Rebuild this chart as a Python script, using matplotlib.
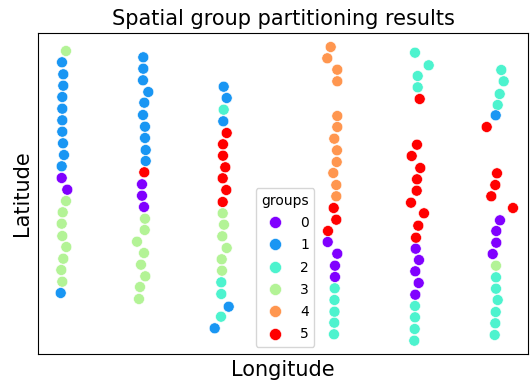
import matplotlib
matplotlib.use("Agg")
import matplotlib.pyplot as plt
import seaborn as sns
import pandas as pd

# Column 1
lon_c1 = [28, 24, 25.3, 25.3, 24.3, 24.3, 24.3, 24.3, 25, 26, 23.7, 23.7, 29.3, 28, 24.7, 23.7, 24.3, 28.3, 25.3, 23.3, 24.3, 22.7]
lat_c1 = [303, 291.7, 279.7, 268.3, 257, 245.3, 233.7, 222.3, 210.7, 199, 187.7, 176, 164.3, 153, 141.7, 130.3, 118, 107, 95.3, 84, 72.3, 61]
grp_c1 = [3, 1, 1, 1, 1, 1, 1, 1, 1, 1, 1, 0, 0, 3, 3, 3, 3, 3, 3, 3, 3, 1]

# Column 2
lon_c2 = [105.3, 105.3, 105, 110.3, 106.3, 105, 107, 107, 107.7, 107.7, 106.3, 104, 104, 106, 107, 106.7, 99, 106, 103, 107.3, 102, 101]
lat_c2 = [296.7, 285.3, 273.7, 262, 251.3, 239, 227.3, 216, 204, 193, 181.7, 169.7, 158.3, 147, 135.3, 124, 112.3, 101, 89.3, 77.7, 67, 55]
grp_c2 = [1, 1, 1, 1, 1, 1, 1, 1, 1, 1, 5, 0, 0, 0, 3, 3, 3, 3, 3, 3, 3, 3]

# Column 3
lon_c3 = [185.7, 188.7, 185.7, 185.3, 188.7, 185, 185, 187.3, 184.7, 188.3, 184.7, 184.7, 186, 184.3, 188.7, 183.7, 184, 183.3, 183.3, 190.7, 183, 176.7]
lat_c3 = [267.3, 256, 244.3, 232.7, 221, 209.7, 198.3, 186.7, 175.7, 164, 152, 140.7, 129.3, 117.7, 106, 94.7, 83.3, 71.7, 60, 47.3, 37.3, 25.7]
grp_c3 = [1, 1, 2, 1, 5, 5, 5, 5, 5, 5, 5, 3, 3, 3, 3, 3, 3, 2, 2, 1, 2, 1]

# Column 4
lon_c4 = [292.7, 289.3, 299.3, 299.3, 299.3, 299.3, 296.3, 299, 298.7, 295.3, 298.3, 298.3, 295.7, 298.3, 290, 289.7, 299.3, 297, 297, 296.7, 296.5, 296.5, 296.3, 296]
lat_c4 = [307, 295.7, 284.3, 272.7, 238, 227, 215.3, 203.7, 192, 181, 169, 157.7, 146, 134.3, 123, 112, 100.3, 88.3, 77, 65.7, 54, 42.3, 31.3, 19.7]
grp_c4 = [4, 4, 4, 4, 4, 4, 4, 4, 4, 4, 4, 4, 5, 5, 5, 0, 0, 0, 0, 2, 2, 2, 2, 2]

# Column 5
lon_c5 = [377, 390.7, 379.7, 379.7, 381.7, 379, 373.7, 382.3, 379, 378.7, 373, 386, 380.3, 378, 377.7, 381, 377.3, 380.7, 377.3, 377, 377, 376.7, 376.3]
lat_c5 = [301.3, 288.7, 278, 266.7, 255, 209.3, 198, 186, 174.7, 163.3, 151.3, 140.7, 128.3, 116.3, 105.3, 94, 82.7, 71, 59.3, 48, 36.7, 25, 13.3]
grp_c5 = [2, 2, 2, 2, 5, 5, 5, 5, 5, 5, 5, 5, 5, 5, 0, 0, 0, 0, 0, 2, 2, 2, 2]

# Column 6
lon_c6 = [463.3, 465.7, 461.7, 459.7, 457.7, 448.7, 459, 457.3, 453.3, 475, 462, 458.3, 458.3, 454.7, 458, 458, 458, 459.7, 457.7, 457.3, 456.7]
lat_c6 = [284, 272.7, 260, 249, 238.7, 227, 180.7, 169, 157.7, 146, 133.7, 123, 111.3, 100, 88.3, 76.7, 65.3, 54, 42, 30.7, 19]
grp_c6 = [2, 2, 2, 2, 1, 5, 5, 5, 5, 5, 0, 0, 0, 0, 3, 2, 2, 2, 2, 2, 2]

lon = lon_c1 + lon_c2 + lon_c3 + lon_c4 + lon_c5 + lon_c6
lat = lat_c1 + lat_c2 + lat_c3 + lat_c4 + lat_c5 + lat_c6
grp = grp_c1 + grp_c2 + grp_c3 + grp_c4 + grp_c5 + grp_c6

df = pd.DataFrame({"Longitude": lon, "Latitude": lat, "groups": grp})

fig = plt.figure(figsize=(5.3, 3.89), dpi=100)
ax = fig.add_axes([38 / 530, 35 / 389, 490 / 530, 321 / 389])

sns.scatterplot(data=df, x="Longitude", y="Latitude", hue="groups",
                palette="rainbow", s=62, edgecolor="white", linewidth=0.4,
                legend="full", ax=ax)

ax.set_xlim(0, 490)
ax.set_ylim(0, 321)
ax.set_xticks([])
ax.set_yticks([])
ax.set_xlabel("Longitude", fontsize=15)
ax.set_ylabel("Latitude", fontsize=15)
ax.set_title("Spatial group partitioning results", fontsize=15)
leg = ax.legend(title="groups", loc="lower center", bbox_to_anchor=(0.504, 0.0),
                fontsize=10, title_fontsize=10,
                markerscale=1.1, labelspacing=0.6)

fig.savefig("out.png", dpi=100)
